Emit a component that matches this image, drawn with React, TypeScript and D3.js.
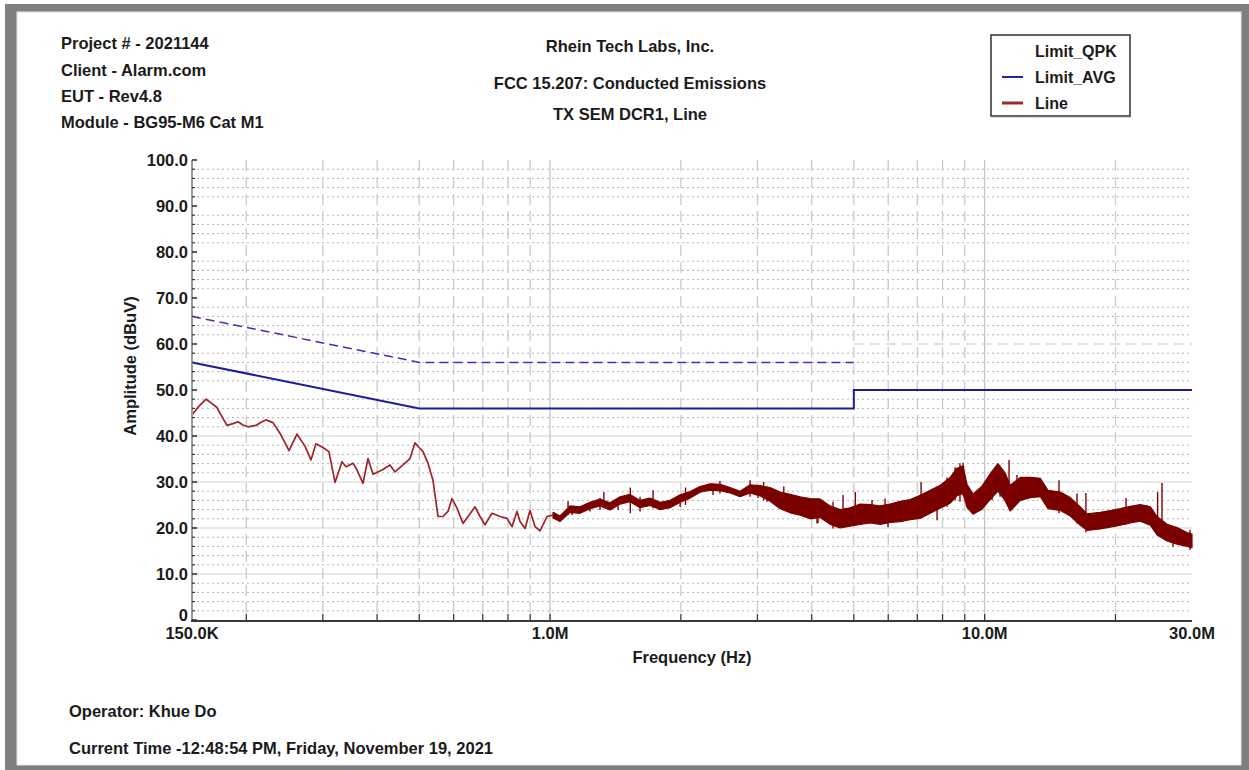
import React from 'react';
import * as d3 from 'd3';

const W = 1249;
const H = 770;

const headerLines = ['Project # - 2021144', 'Client - Alarm.com', 'EUT - Rev4.8', 'Module - BG95-M6 Cat M1'];
const titleLines = ['Rhein Tech Labs, Inc.', 'FCC 15.207: Conducted Emissions', 'TX SEM DCR1, Line'];
const footerLines = ['Operator: Khue Do', 'Current Time -12:48:54 PM, Friday, November 19, 2021'];
const legendLabels = ['Limit_QPK', 'Limit_AVG', 'Line'];

const xTickValues = [0.15, 1, 10, 30];
const xTickLabels = ['150.0K', '1.0M', '10.0M', '30.0M'];
const xMinorGrid = [0.2, 0.3, 0.4, 0.5, 0.6, 0.7, 0.8, 0.9, 2, 3, 4, 5, 6, 7, 8, 9, 20];
const xMajorGrid = [1, 10];
const yTickValues = [0, 10, 20, 30, 40, 50, 60, 70, 80, 90, 100];
const yTickLabels = ['0', '10.0', '20.0', '30.0', '40.0', '50.0', '60.0', '70.0', '80.0', '90.0', '100.0'];
const ySolidGrid = [10, 20, 30, 40];

// limits (MHz, dBuV)
const limitFreq = [0.15, 0.5, 5, 5, 30];
const limitQPK = [66, 56, 56, 60, 60];
const limitAVG = [56, 46, 46, 50, 50];

// measured trace, low-frequency part (MHz, dBuV)
const lineFreq = [0.150, 0.1557, 0.1616, 0.1659, 0.1712, 0.1758, 0.1805, 0.1864, 0.1914, 0.1965, 0.2018, 0.2105, 0.2162, 0.2220, 0.2304, 0.2404, 0.2508, 0.2616, 0.2730, 0.2817, 0.2893, 0.3002, 0.3099, 0.3200, 0.3320, 0.3392, 0.3520, 0.3596, 0.3712, 0.3811, 0.3914, 0.4105, 0.4282, 0.4397, 0.4588, 0.4761, 0.4889, 0.4994, 0.5101, 0.5237, 0.5377, 0.5523, 0.5671, 0.5823, 0.5948, 0.6108, 0.6305, 0.6474, 0.6719, 0.6899, 0.7084, 0.7352, 0.7671, 0.7960, 0.8174, 0.8393, 0.8528, 0.8757, 0.8992, 0.9235, 0.9482, 0.9840, 1.0158];
const lineLevel = [44.6, 46.5, 48.0, 47.2, 46.2, 44.2, 42.3, 42.7, 43.1, 42.4, 42.0, 42.3, 43.0, 43.5, 42.9, 40.2, 36.8, 40.4, 37.8, 34.8, 38.3, 37.5, 36.6, 29.9, 34.4, 33.3, 34.1, 32.6, 29.7, 35.1, 31.7, 32.6, 33.7, 32.2, 33.7, 35.1, 38.5, 37.5, 36.6, 34.1, 30.4, 22.5, 22.5, 23.6, 26.4, 24.3, 21.0, 22.5, 24.6, 22.5, 20.7, 23.2, 22.5, 22.1, 20.3, 23.6, 21.4, 19.9, 23.8, 20.3, 19.4, 22.5, 22.8];

// measured trace, high-frequency part: min / max envelope per bin
const bandFreq = [1.016, 1.054, 1.112, 1.172, 1.236, 1.303, 1.374, 1.449, 1.528, 1.611, 1.699, 1.791, 1.889, 1.992, 2.100, 2.214, 2.335, 2.462, 2.596, 2.737, 2.886, 3.043, 3.209, 3.384, 3.568, 3.762, 3.967, 4.183, 4.410, 4.650, 4.904, 5.171, 5.452, 5.749, 6.062, 6.392, 6.740, 7.107, 7.494, 7.902, 8.332, 8.637, 8.916, 9.107, 9.402, 9.861, 10.30, 10.73, 11.14, 11.45, 12.08, 12.73, 13.43, 13.99, 14.93, 15.74, 16.60, 17.20, 18.45, 19.46, 20.52, 21.63, 22.81, 24.05, 24.93, 26.28, 27.71, 29.22, 30.0];
const bandLow = [22.2, 21.4, 23.4, 23.2, 24.2, 24.8, 23.9, 25.2, 25.7, 24.4, 24.9, 24.0, 24.4, 25.6, 26.5, 27.8, 28.2, 28.1, 27.6, 26.8, 27.6, 27.0, 25.8, 24.2, 23.3, 22.8, 22.0, 22.3, 20.8, 20.0, 20.4, 20.8, 21.1, 20.8, 21.2, 21.4, 21.8, 22.1, 23.2, 24.3, 25.4, 27.0, 27.5, 24.5, 23.0, 24.1, 26.2, 28.0, 26.0, 23.7, 26.0, 26.6, 26.8, 24.2, 23.8, 22.6, 20.6, 19.5, 19.8, 20.2, 20.6, 21.1, 21.5, 20.6, 18.5, 17.2, 16.5, 16.0, 15.7];
const bandHigh = [23.4, 22.6, 24.8, 24.6, 25.6, 26.3, 25.5, 26.8, 27.3, 26.0, 26.5, 25.6, 26.0, 27.2, 27.9, 29.0, 29.6, 29.5, 28.8, 28.0, 29.4, 29.2, 28.8, 27.8, 27.3, 26.8, 26.4, 26.3, 24.8, 24.0, 24.4, 25.2, 25.1, 24.8, 25.2, 25.8, 26.2, 27.1, 28.2, 29.3, 31.0, 33.0, 33.5, 29.5, 27.4, 29.1, 31.8, 34.0, 32.0, 29.3, 31.0, 31.0, 30.8, 28.2, 27.8, 26.6, 24.6, 23.1, 23.4, 23.8, 24.2, 24.7, 25.1, 24.6, 22.5, 20.8, 20.1, 19.0, 18.7];

// individual excursions beyond the envelope (MHz, min dBuV, max dBuV)
const spikeFreq = [1.10, 1.124, 1.236, 1.303, 1.33, 1.434, 1.53, 1.611, 1.726, 1.992, 2.05, 2.371, 2.46, 2.886, 3.009, 3.10, 3.156, 3.384, 3.45, 3.762, 4.114, 4.136, 4.478, 4.722, 5.04, 5.507, 5.90, 5.993, 6.488, 7.14, 7.771, 8.193, 8.55, 8.775, 8.92, 9.402, 10.40, 10.85, 11.38, 11.87, 12.92, 14.83, 16.31, 17.10, 21.15, 23.64, 25.0, 25.59, 27.12, 29.69];
const spikeLow = [22.8, 22.8, 23.6, 23.9, 24.5, 23.9, 23.2, 23.6, 24.3, 24.6, 25.0, 27.2, 27.5, 26.8, 26.5, 26.0, 25.7, 24.6, 24.5, 22.8, 21.0, 21.1, 19.9, 20.7, 21.5, 21.4, 21.0, 20.2, 21.4, 22.5, 21.7, 24.6, 26.0, 25.7, 27.0, 23.2, 26.1, 26.8, 25.4, 25.7, 27.5, 23.2, 21.0, 19.1, 20.7, 21.0, 20.0, 20.3, 15.9, 15.2];
const spikeHigh = [25.8, 24.6, 25.7, 26.5, 27.8, 26.1, 28.8, 26.8, 28.2, 27.2, 28.8, 29.7, 30.2, 30.4, 29.3, 30.0, 29.0, 27.5, 29.0, 26.5, 25.0, 26.5, 25.7, 27.2, 27.8, 26.1, 26.4, 25.0, 25.7, 30.0, 29.0, 31.0, 33.2, 34.1, 34.2, 27.5, 31.2, 33.0, 34.8, 31.5, 30.1, 30.4, 27.5, 27.6, 26.5, 25.0, 27.8, 29.8, 20.2, 19.6];

const FONT = '"Liberation Sans", Arial, Helvetica, sans-serif';
const TEXT = '#1b1b1b';

export default function App() {
  const x = d3.scaleLog().domain([0.15, 30]).range([192, 1192]);
  const y = d3.scaleLinear().domain([0, 100]).range([620, 160]);

  const dottedLevels = d3.range(2, 100, 2).filter((v) => v % 10 !== 0);

  const lineGen = d3
    .line<number>()
    .x((_, i) => x(lineFreq[i]))
    .y((v) => y(v));

  const limGen = (vals: number[], idx: number[]) =>
    d3
      .line<number>()
      .x((i) => x(limitFreq[i]))
      .y((i) => y(vals[i]))(idx) as string;

  const bandArea = d3
    .area<number>()
    .x((_, i) => x(bandFreq[i]))
    .y0((_, i) => y(bandLow[i]))
    .y1((v) => y(v));

  return (
    <svg
      width={W}
      height={H}
      viewBox={`0 0 ${W} ${H}`}
      style={{ position: 'absolute', left: 0, top: 0, background: '#fff' }}
    >
      {/* frame */}
      <rect x={0} y={0} width={W} height={H} fill="#ffffff" />
      <rect x={5} y={4} width={W - 5} height={H - 4} fill="#7d807d" />
      <rect x={17} y={12} width={1224} height={753} fill="#ffffff" stroke="#e4e4e4" strokeWidth={1} />

      {/* header text */}
      <g fontFamily={FONT} fontWeight="bold" fontSize={16.5} fill={TEXT}>
        {headerLines.map((t, i) => (
          <text key={t} x={61} y={[49, 75.5, 101.5, 128][i]}>
            {t}
          </text>
        ))}
        {titleLines.map((t, i) => (
          <text key={t} x={630} y={[51.5, 88.5, 119.5][i]} textAnchor="middle">
            {t}
          </text>
        ))}
        {footerLines.map((t, i) => (
          <text key={t} x={69} y={[716.5, 754][i]}>
            {t}
          </text>
        ))}
      </g>

      {/* grid */}
      <g>
        {dottedLevels.map((v) => (
          <line key={'hd' + v} x1={192} x2={1192} y1={y(v)} y2={y(v)} stroke="#b5b5b5" strokeWidth={1} strokeDasharray="2,3" />
        ))}
        {ySolidGrid.map((v) => (
          <line key={'hs' + v} x1={192} x2={1192} y1={y(v)} y2={y(v)} stroke="#d2d2d2" strokeWidth={1.2} />
        ))}
        {xMinorGrid.map((f) => (
          <line key={'vm' + f} x1={x(f)} x2={x(f)} y1={160} y2={620} stroke="#cacaca" strokeWidth={1.3} strokeDasharray="11,6" />
        ))}
        {xMajorGrid.map((f) => (
          <line key={'vM' + f} x1={x(f)} x2={x(f)} y1={160} y2={620} stroke="#c4c4c4" strokeWidth={1.3} />
        ))}
      </g>

      {/* limits */}
      <path d={limGen(limitQPK, [0, 1, 2])} fill="none" stroke="#3535b5" strokeWidth={1.5} strokeDasharray="9,5" />
      <path d={limGen(limitQPK, [3, 4])} fill="none" stroke="#d6d6f0" strokeWidth={1.5} strokeDasharray="10,6" />
      <path d={limGen(limitAVG, [0, 1, 2, 3, 4])} fill="none" stroke="#1c1c9c" strokeWidth={2} />

      {/* measured trace */}
      <path d={bandArea(bandHigh) as string} fill="#7a0000" stroke="#7a0000" strokeWidth={1.2} strokeLinejoin="round" />
      {spikeFreq.map((f, i) => (
        <line key={'sp' + i} x1={x(f)} x2={x(f)} y1={y(spikeLow[i])} y2={y(spikeHigh[i])} stroke="#7e0404" strokeWidth={1.4} />
      ))}
      <path d={lineGen(lineLevel) as string} fill="none" stroke="#a02424" strokeWidth={1.7} strokeLinejoin="round" />

      {/* axes */}
      <line x1={192} x2={192} y1={160} y2={621} stroke="#9a9a9a" strokeWidth={2} />
      <line x1={191} x2={1192} y1={621} y2={621} stroke="#3a3a3a" strokeWidth={2} />
      {yTickValues.map((v) => (
        <line key={'yt' + v} x1={192} x2={197} y1={y(v)} y2={y(v)} stroke="#2a2a2a" strokeWidth={1.5} />
      ))}
      {dottedLevels.map((v) => (
        <line key={'ymt' + v} x1={192} x2={195} y1={y(v)} y2={y(v)} stroke="#3a3a3a" strokeWidth={1.2} />
      ))}
      {[...xMinorGrid, ...xMajorGrid].map((f) => (
        <line key={'xt' + f} x1={x(f)} x2={x(f)} y1={620} y2={614} stroke="#3a3a3a" strokeWidth={1.3} />
      ))}

      <g fontFamily={FONT} fontWeight="bold" fontSize={16.5} fill={TEXT}>
        {yTickValues.map((v, i) => (
          <text key={'yl' + v} x={188} y={y(v) - (v === 0 ? 5 : 0)} dy="0.35em" textAnchor="end">
            {yTickLabels[i]}
          </text>
        ))}
        {xTickValues.map((f, i) => (
          <text key={'xl' + f} x={x(f)} y={639} textAnchor="middle">
            {xTickLabels[i]}
          </text>
        ))}
        <text x={692} y={663} textAnchor="middle">
          Frequency (Hz)
        </text>
        <text transform="translate(136,366) rotate(-90)" textAnchor="middle">
          Amplitude (dBuV)
        </text>
      </g>

      {/* legend */}
      <g>
        <rect x={991} y={35} width={139} height={81} fill="#ffffff" stroke="#3d3d3d" strokeWidth={1.6} />
        <line x1={992} x2={1131} y1={116.5} y2={116.5} stroke="#6a6a6a" strokeWidth={1.5} />
        <line x1={1002} x2={1023} y1={77} y2={77} stroke="#2323a3" strokeWidth={2} />
        <line x1={1002} x2={1023} y1={103} y2={103} stroke="#a02a2a" strokeWidth={3} />
        <g fontFamily={FONT} fontWeight="bold" fontSize={16} fill={TEXT}>
          {legendLabels.map((t, i) => (
            <text key={t} x={1035} y={[56.5, 82.5, 108.5][i]}>
              {t}
            </text>
          ))}
        </g>
      </g>
    </svg>
  );
}
